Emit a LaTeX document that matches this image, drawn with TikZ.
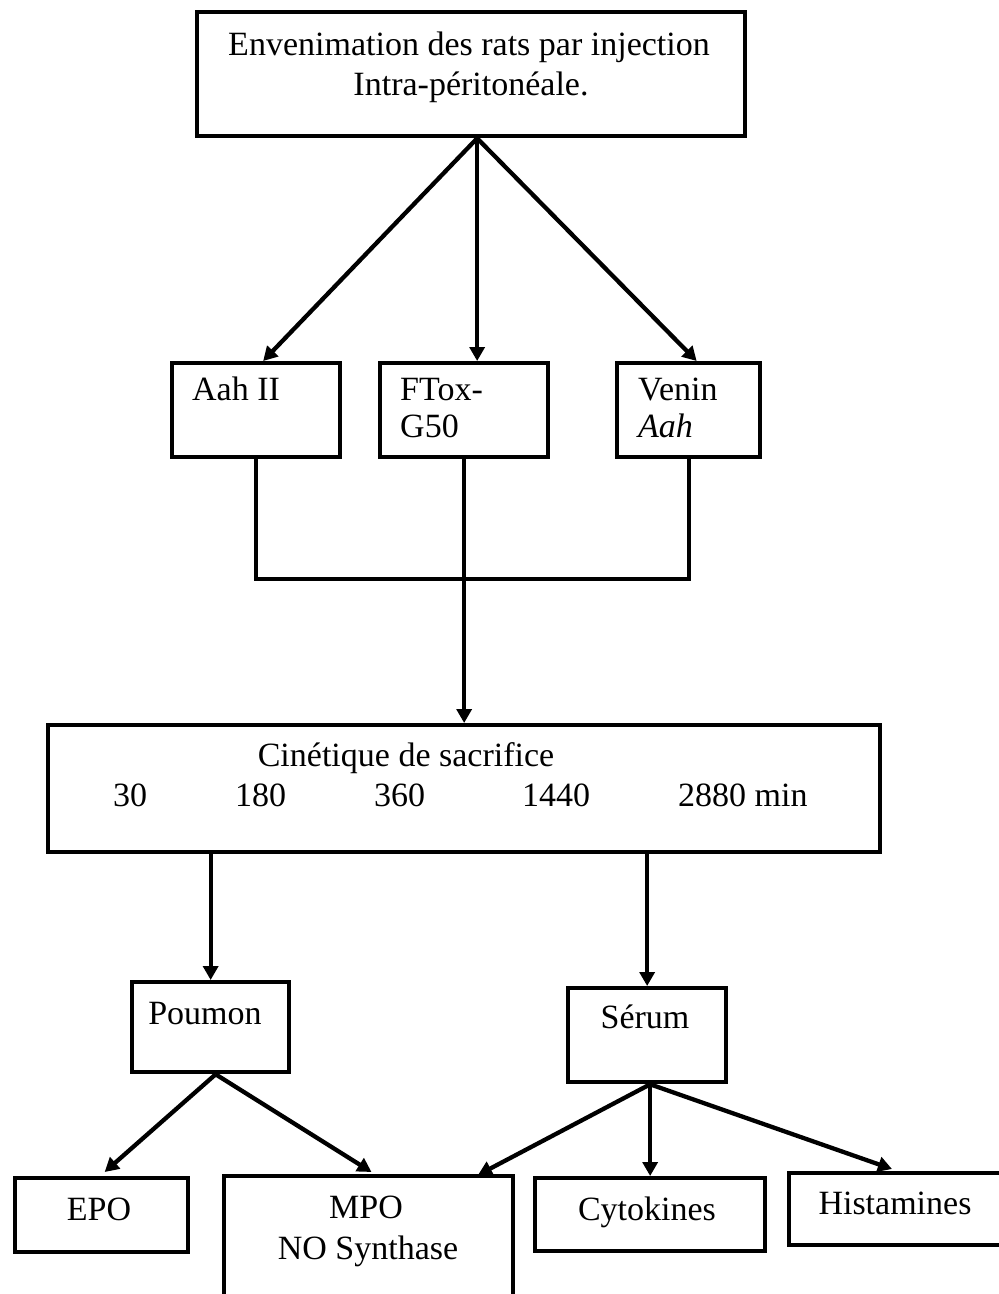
\documentclass[tikz,border=0pt]{standalone}
\usepackage{fontspec}
\setmainfont{Liberation Serif}
\usetikzlibrary{arrows.meta,calc}
\begin{document}
\begin{tikzpicture}[x=1pt,y=-1pt,
  boxnode/.style={draw=black, line width=4.3pt, inner sep=0pt, anchor=north west},
  ghost/.style={inner sep=0pt, anchor=north west, outer sep=0pt},
  boxline/.style={line width=4.3pt, line join=miter},
  conn/.style={line width=4.3pt, line join=miter},
  arr/.style={line width=4.3pt, -{Triangle[length=14pt,width=15pt]}},
  txt/.style={inner sep=0pt, font=\fontsize{34}{39}\selectfont, anchor=base},
  ltxt/.style={txt, anchor=base west}]
\useasboundingbox (0,0) rectangle (999,1294);
\clip (0,0) rectangle (999,1294);
\fill[white] (0,0) rectangle (999,1294);

% boxes
\node[boxnode, minimum width=548pt, minimum height=124pt] (top) at (195,10) {};
\node[boxnode, minimum width=168pt, minimum height=94pt] (aah) at (170,361) {};
\node[boxnode, minimum width=168pt, minimum height=94pt] (ftox) at (378,361) {};
\node[boxnode, minimum width=143pt, minimum height=94pt] (venin) at (615,361) {};
\node[boxnode, minimum width=832pt, minimum height=127pt] (cin) at (46,723) {};
\node[boxnode, minimum width=157pt, minimum height=90pt] (poumon) at (130,980) {};
\node[boxnode, minimum width=158pt, minimum height=94pt] (serum) at (566,986) {};
\node[boxnode, minimum width=173pt, minimum height=74pt] (epo) at (13,1176) {};
\node[ghost, minimum width=289pt, minimum height=140pt] (mpo) at (224,1176) {};
\draw[boxline] (mpo.south west) -- (mpo.north west) -- (mpo.north east) -- (mpo.south east);
\node[boxnode, minimum width=230pt, minimum height=73pt] (cyto) at (533,1176) {};
\node[boxnode, minimum width=216pt, minimum height=72pt] (hist) at (787,1171) {};

% texts
\node[txt] (t1) at (469,55) {Envenimation des rats par injection};
\node[txt] (t2) at (471,95) {Intra-péritonéale.};
\node[ltxt] (a1) at (192,400) {Aah II};
\node[ltxt] (f1) at (400,400) {FTox-};
\node[ltxt] (f2) at (400,437) {G50};
\node[ltxt] (v1) at (638,400) {Venin};
\node[ltxt] (v2) at (638,437) {\itshape Aah};
\node[txt] (c0) at (406,766) {Cinétique de sacrifice};
\node[ltxt] (c1) at (113,806) {30};
\node[ltxt] (c2) at (235,806) {180};
\node[ltxt] (c3) at (374,806) {360};
\node[ltxt] (c4) at (522,806) {1440};
\node[ltxt] (c5) at (678,806) {2880 min};
\node[txt] (p1) at (205,1024) {Poumon};
\node[txt] (s1) at (645,1028) {Sérum};
\node[txt] (e1) at (99,1220) {EPO};
\node[txt] (m1) at (366,1218) {MPO};
\node[txt] (m2) at (368,1259) {NO Synthase};
\node[txt] (k1) at (647,1220) {Cytokines};
\node[txt] (h1) at (895,1214) {Histamines};

% connectors: top to three agents
\coordinate (tsrc) at ([xshift=6pt]top.south);
\draw[arr] (tsrc) -- ([xshift=7pt]aah.north);
\draw[arr] (tsrc) -- (tsrc |- ftox.north);
\draw[arr] (tsrc) -- ([xshift=8pt]venin.north);

% merge
\coordinate (j) at (ftox.south |- 0,579);
\draw[conn] (aah.south) -- (aah.south |- j) -- (venin.south |- j) -- (venin.south);
\draw[conn] (ftox.south) -- (j);
\draw[arr] (j) -- (j |- cin.north);

% cin to organs
\draw[arr] (cin.south -| poumon.north) -- (poumon.north);
\draw[arr] (cin.south -| serum.north) -- (serum.north);

% poumon to assays
\coordinate (psrc) at ([xshift=5pt]poumon.south);
\draw[arr] (psrc) -- ([xshift=3pt,yshift=4pt]epo.north);
\draw[arr] (psrc) -- ([xshift=3pt,yshift=4pt]mpo.north);

% serum to assays
\coordinate (ssrc) at ([xshift=3pt]serum.south);
\draw[arr] (ssrc) -- ([xshift=254pt,yshift=1pt]mpo.north west);
\draw[arr] (ssrc) -- (ssrc |- cyto.north);
\draw[arr] (ssrc) -- ([xshift=105pt,yshift=2pt]hist.north west);
\end{tikzpicture}
\end{document}
